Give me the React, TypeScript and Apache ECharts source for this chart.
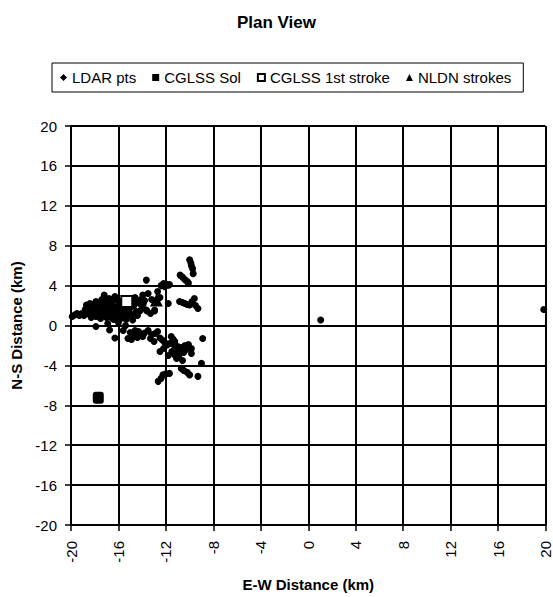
import React, { useEffect, useRef } from "react";
import * as echarts from "echarts";

const titleText = "Plan View";
const xAxisTitle = "E-W Distance (km)";
const yAxisTitle = "N-S Distance (km)";
const seriesNames = ["LDAR pts", "CGLSS Sol", "CGLSS 1st stroke", "NLDN strokes"];
const axisMin = -20;
const axisMax = 20;
const axisStep = 4;

const ldarPts: [number, number][] = [
  [-19.9, 0.9], [-19.7, 1.05], [-19.5, 1.2], [-19.1, 1.2], [-18.9, 1.0], [-18.7, 2.05],
  [-18.4, 2.2], [-18.6, 1.2], [-18.2, 1.4], [-18.0, 1.1], [-17.9, 2.4], [-17.7, 2.0],
  [-17.45, 2.2], [-17.2, 3.05], [-17.45, 1.4], [-17.3, 1.0], [-17.6, 1.6], [-17.1, 1.8],
  [-16.9, 2.3], [-16.8, 1.5], [-16.6, 1.2], [-16.5, 2.0], [-16.3, 1.7], [-16.2, 0.9],
  [-16.0, 2.4], [-15.9, 1.3], [-15.8, 0.7], [-15.6, 1.9], [-15.5, 1.1], [-15.35, 0.6],
  [-16.9, 0.2], [-17.9, -0.1], [-16.75, -0.45], [-14.8, 0.55], [-14.5, 1.4], [-14.2, 2.2],
  [-13.95, 3.05], [-15.2, -1.3], [-14.65, -1.1], [-13.95, -1.1],
  [-17.0, 1.3], [-16.7, 1.7], [-16.4, 1.4], [-16.1, 1.1], [-15.7, 1.5], [-16.6, 0.8],
  [-17.2, 2.5], [-16.2, 2.6], [-15.5, 2.6], [-15.0, 1.8], [-15.2, 1.0], [-14.9, 2.4],
  [-14.6, 2.8], [-18.3, 0.8], [-18.8, 1.6], [-17.8, 1.6], [-17.5, 0.7], [-16.0, 0.3],
  [-15.4, 0.0], [-16.3, 2.9], [-15.8, 2.2], [-16.8, 2.7], [-17.0, 0.8],
  [-17.3, 1.6], [-17.0, 2.0], [-16.8, 1.1], [-16.5, 1.6], [-16.3, 1.2], [-16.1, 1.9],
  [-15.9, 1.6], [-15.7, 1.0], [-15.9, 2.0], [-16.6, 2.3], [-16.4, 0.6], [-17.6, 1.2],
  [-18.1, 1.9], [-18.5, 1.6], [-19.3, 1.0], [-17.9, 0.9], [-16.2, 1.5], [-15.4, 1.5],
  [-15.1, 1.4], [-14.9, 1.1], [-14.7, 2.0], [-14.4, 2.5], [-14.1, 2.6], [-13.9, 2.2],
  [-16.5, 2.6], [-17.4, 2.6], [-16.0, 1.4], [-15.6, 1.3], [-16.9, 1.6], [-18.2, 2.1],
  [-13.65, 4.55], [-13.5, 3.2], [-13.65, 1.55], [-12.95, 1.55], [-12.7, 3.4], [-12.2, 4.2],
  [-12.0, 4.15], [-11.8, 4.05], [-12.1, 3.9], [-11.7, 4.1], [-11.8, 2.2], [-13.2, 2.6],
  [-13.8, 2.5], [-14.0, 1.9], [-14.4, 1.0], [-13.3, 1.2], [-12.5, 2.8], [-12.4, 4.0],
  [-10.0, 6.6], [-9.9, 6.3], [-9.85, 6.0], [-9.75, 5.7], [-9.7, 5.2], [-10.8, 5.05],
  [-10.6, 4.85], [-10.4, 4.6], [-10.2, 4.4], [-10.1, 4.25],
  [-10.85, 2.4], [-10.6, 2.3], [-10.4, 2.2], [-10.2, 2.1], [-10.0, 2.05], [-9.8, 2.4],
  [-9.6, 2.7], [-9.3, 1.7], [-9.5, 2.0],
  [-14.2, 1.45], [-13.6, 1.45], [-12.95, 1.45], [-13.8, -0.75], [-13.5, -0.5], [-13.2, -0.9],
  [-12.9, -0.8], [-12.5, -1.25], [-14.3, -0.6], [-14.0, -0.9], [-12.3, -1.45], [-12.1, -1.7],
  [-11.9, -1.95], [-11.55, -1.1], [-11.4, -1.35], [-11.25, -1.6], [-12.5, -2.6], [-11.7, -1.8],
  [-11.3, -2.0], [-11.0, -2.1], [-10.7, -2.2], [-10.4, -2.0], [-10.1, -1.9], [-9.85, -2.3],
  [-11.1, -3.3], [-10.9, -3.0], [-10.6, -3.5], [-9.85, -2.8], [-8.9, -1.3], [-9.0, -3.8],
  [-10.7, -4.3], [-10.5, -4.5], [-10.2, -4.7], [-10.0, -4.95], [-9.3, -5.1], [-12.25, -4.95],
  [-12.0, -4.85], [-11.7, -4.8], [-12.65, -5.6], [-12.4, -5.3],
  [-15.6, -0.5], [-15.0, -0.7], [-14.6, -0.5], [-16.3, -1.25], [-13.0, -1.6], [-14.9, -1.4],
  [-11.5, -2.6], [-11.8, -3.0], [-12.2, -2.3], [-13.3, -1.3], [-12.7, -0.6], [-14.4, -1.2],
  [-11.0, -2.5], [-10.5, -2.7], [-10.3, -2.4], [-11.3, -2.9],
  [1.05, 0.55], [19.85, 1.6],
];

const cglssSol: [number, number][] = [[-17.7, -7.25]];
const cglssFirst: [number, number][] = [[-15.3, 2.4]];
const nldnStrokes: [number, number][] = [[-12.8, 2.55]];

const FONT = "Liberation Sans, Arial, sans-serif";

export default function App() {
  const ref = useRef<HTMLDivElement>(null);
  useEffect(() => {
    if (!ref.current) return;
    const chart = echarts.init(ref.current, undefined, { renderer: "svg" });
    const axisCommon = {
      type: "value" as const,
      min: axisMin,
      max: axisMax,
      interval: axisStep,
      axisLine: { show: true, onZero: false, lineStyle: { color: "#000", width: 2 } },
      axisTick: { show: true, inside: false, length: 6, lineStyle: { color: "#000", width: 1.5 } },
      splitLine: { show: true, lineStyle: { color: "#000", width: 2 } },
      nameLocation: "middle" as const,
      nameTextStyle: { fontFamily: FONT, fontSize: 15, fontWeight: "bold" as const, color: "#000" },
    };
    chart.setOption({
      animation: false,
      backgroundColor: "#fff",
      title: {
        text: titleText,
        left: "center",
        top: 9,
        textStyle: { fontFamily: FONT, fontSize: 17, fontWeight: "bold", color: "#000" },
      },
      legend: {
        left: 52,
        top: 63,
        orient: "horizontal",
        padding: [7, 12, 7, 8],
        borderColor: "#000",
        borderWidth: 1,
        itemGap: 16,
        itemWidth: 7,
        itemHeight: 7,
        textStyle: { fontFamily: FONT, fontSize: 15, color: "#000" },
        data: [
          { name: seriesNames[0], icon: "diamond" },
          { name: seriesNames[1], icon: "rect" },
          { name: seriesNames[2], icon: "rect" },
          { name: seriesNames[3], icon: "triangle" },
        ],
      },
      grid: { left: 71, right: 7, top: 126, bottom: 72, containLabel: false },
      xAxis: {
        ...axisCommon,
        name: xAxisTitle,
        nameGap: 52,
        axisLabel: { rotate: 90, margin: 16, fontFamily: FONT, fontSize: 15, color: "#000" },
      },
      yAxis: {
        ...axisCommon,
        name: yAxisTitle,
        nameGap: 40,
        nameRotate: 90,
        axisLabel: { margin: 14, fontFamily: FONT, fontSize: 15, color: "#000" },
      },
      series: [
        {
          name: seriesNames[0],
          type: "scatter",
          symbol: "circle",
          symbolSize: 7,
          data: ldarPts,
          itemStyle: { color: "#000", opacity: 1 },
          z: 2,
        },
        {
          name: seriesNames[1],
          type: "scatter",
          symbol: "roundRect",
          symbolSize: [11, 12],
          data: cglssSol,
          itemStyle: { color: "#000", opacity: 1 },
          z: 3,
        },
        {
          name: seriesNames[2],
          type: "scatter",
          symbol: "rect",
          symbolSize: 11,
          data: cglssFirst,
          itemStyle: { color: "#fff", borderColor: "#000", borderWidth: 2, opacity: 1 },
          z: 4,
        },
        {
          name: seriesNames[3],
          type: "scatter",
          symbol: "triangle",
          symbolSize: 13,
          data: nldnStrokes,
          itemStyle: { color: "#000", opacity: 1 },
          z: 5,
        },
      ],
    });
    return () => chart.dispose();
  }, []);
  return (
    <div
      ref={ref}
      style={{ position: "absolute", left: 0, top: 0, width: 553, height: 597 }}
    />
  );
}
